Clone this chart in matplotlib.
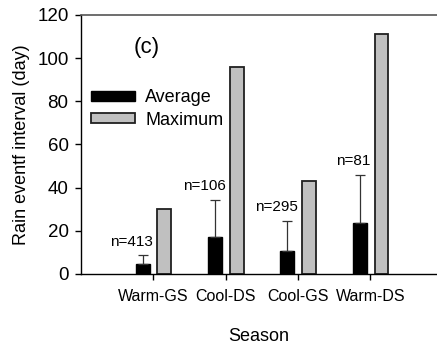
import matplotlib.pyplot as plt
import numpy as np

plt.rcParams['font.family'] = ['Liberation Sans', 'DejaVu Sans']

# data
seasons = ['Warm-GS', 'Cool-DS', 'Cool-GS', 'Warm-DS']
avg_vals = [4.6, 17.1, 10.5, 23.8]
avg_err = [4.2, 17.3, 14.2, 22.2]
max_vals = [30, 96, 43, 111]
n_labels = ['n=413', 'n=106', 'n=295', 'n=81']

x = np.arange(1, len(seasons) + 1)
w = 0.19

fig = plt.figure(figsize=(4.37, 3.47), dpi=100)
ax = fig.add_axes([0.1854, 0.2104, 0.8146, 0.7464])

ax.bar(x - 0.148, avg_vals, w, color='black', edgecolor='black', linewidth=1,
       label='Average')
ax.errorbar(x - 0.148, avg_vals, yerr=[np.zeros(len(x)), avg_err], fmt='none',
            ecolor='#333333', elinewidth=0.9, capsize=3.5, capthick=0.9)
ax.bar(x + 0.152, max_vals, w, color='#c0c0c0', edgecolor='#202020',
       linewidth=1.3, label='Maximum')

for xi, a, e, lab in zip(x, avg_vals, avg_err, n_labels):
    ax.text(xi, a + e + 3, lab, ha='right', va='bottom', fontsize=11)

ax.text(0.185, 0.873, '(c)', transform=ax.transAxes, fontsize=16,
        ha='center', va='center')

ax.set_xlim(0, 4.92)
ax.set_ylim(0, 120)
ax.set_xticks(x)
ax.set_xticklabels(seasons, fontsize=11.5)
ax.set_yticks(range(0, 121, 20))
ax.tick_params(axis='y', labelsize=13.5, direction='out', length=4, width=1,
               pad=5)
ax.tick_params(axis='x', direction='out', length=4, width=1, pad=7)

ax.spines['right'].set_visible(False)
ax.spines['top'].set_color('#555555')
ax.spines['top'].set_linewidth(1.2)
ax.spines['left'].set_linewidth(1)
ax.spines['bottom'].set_linewidth(1)

ax.set_ylabel('Rain eventf interval (day)', fontsize=13, labelpad=5)
ax.set_xlabel('Season', fontsize=13, labelpad=17)

ax.legend(loc='center left', bbox_to_anchor=(0.028, 0.637), frameon=False,
          fontsize=13, handlelength=2.45, handleheight=0.5,
          handletextpad=0.55, labelspacing=0.3, borderaxespad=0,
          borderpad=0)

fig.savefig('out.png', dpi=100)
